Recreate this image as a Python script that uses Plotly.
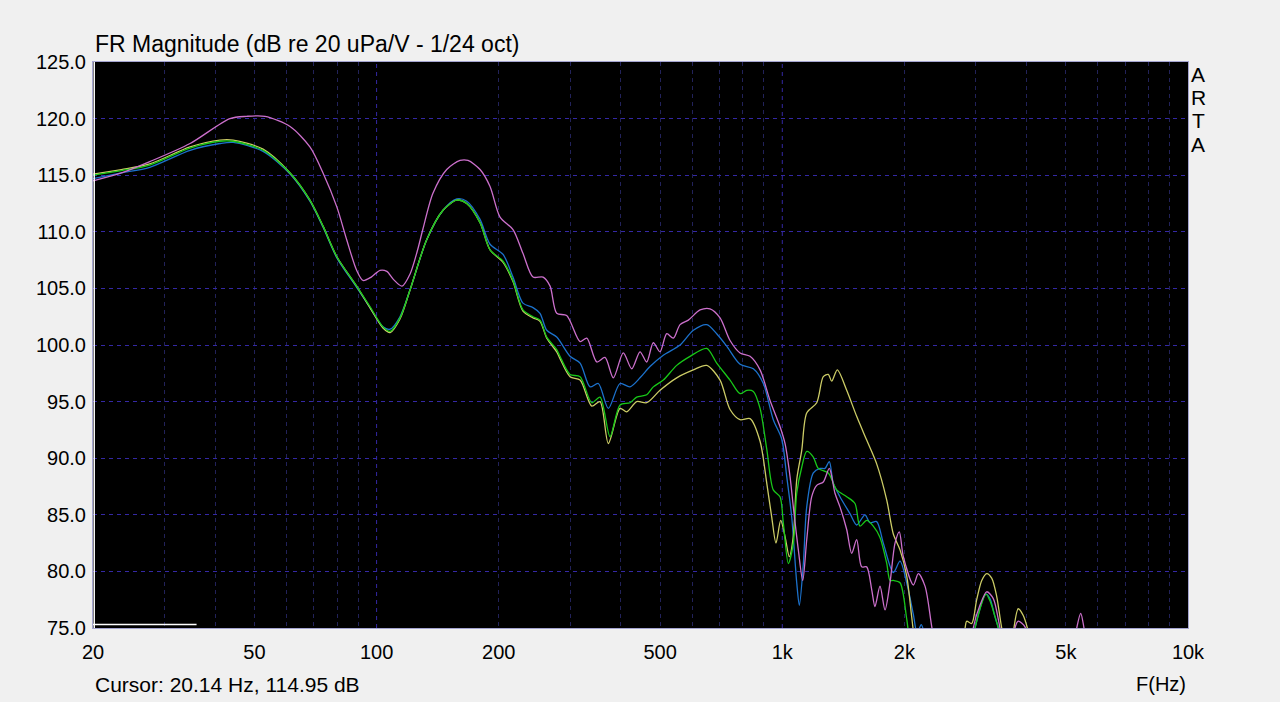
import math
import plotly.graph_objects as go

# ---------------- data ----------------
x_tick_vals = [20, 50, 100, 200, 500, 1000, 2000, 5000, 10000]
x_tick_text = ["20", "50", "100", "200", "500", "1k", "2k", "5k", "10k"]
x_minor_grid = [30, 40, 50, 60, 70, 80, 90, 200, 300, 400, 500, 600, 700, 800, 900,
                2000, 3000, 4000, 5000, 6000, 7000, 8000, 9000]
x_decade_grid = [100, 1000]
y_min, y_max, y_step = 75, 125, 5

cursor_freq = 20.14
cursor_db = 114.95
marker_seg_freq = [20, 36]
marker_seg_db = 75.3

freq_magenta = [
    20, 23.5, 27.6, 34.7, 43.5, 47.8, 53.1, 61.2, 68.5, 73.8,
    79.8, 84.4, 89.3, 92.6, 97, 102, 106, 110, 115.5, 121,
    126, 130, 137.7, 148.9, 160.6, 168, 179.9, 190.4, 201.5, 216.9,
    229.5, 243, 257.3, 267.7, 278, 294.2, 317.4, 329.7, 348.9, 365.6,
    383.3, 405.6, 425.5, 446, 463.2, 480.9, 499.6, 519, 538.8, 559.8,
    586.8, 627, 663.6, 702.4, 743.4, 786.9, 832.8, 881.5, 932.8, 987,
    1015.5, 1044.8, 1064.6, 1095.3, 1123, 1148.8, 1181.8, 1215.8, 1262, 1305.8,
    1348.6, 1387.4, 1441.2, 1482.6, 1525.2, 1569, 1614.4, 1661, 1692.2, 1741.2,
    1791.6, 1843, 1896, 1942.8, 1987.6, 2104, 2164, 2248, 2336, 2420,
    2900, 2956, 3070, 3190, 3312, 3440, 3560, 3700, 3746, 3816,
    3964, 4080, 5200, 5318, 5440, 5542, 5680, 10000]
db_magenta = [
    114.5, 115.2, 116.2, 117.8, 120.0, 120.2, 120.2, 119.3, 117.5, 115.2,
    112.2, 109.3, 106.6, 105.7, 106.0, 106.6, 106.5, 105.8, 105.2, 106.3,
    108.3, 110.2, 113.4, 115.5, 116.3, 116.3, 115.5, 114.0, 111.3, 110.2,
    108.1, 106.0, 106.0, 105.2, 102.8, 102.6, 100.3, 100.6, 98.5, 98.9,
    97.1, 99.3, 97.9, 99.4, 98.5, 100.2, 99.4, 101.0, 100.6, 101.8,
    102.2, 103.1, 103.2, 102.4, 100.4, 99.3, 99.0, 97.8, 95.1, 92.8,
    91.3, 88.4, 85.7, 81.9, 79.2, 82.8, 86.6, 87.6, 87.9, 89.1,
    86.9, 85.7, 83.7, 81.6, 82.8, 80.4, 80.4, 78.4, 76.9, 78.7,
    76.6, 79.0, 82.5, 83.5, 81.3, 78.8, 79.8, 78.7, 75.1, 72.0,
    72.0, 75.0, 77.0, 78.2, 77.6, 75.0, 72.5, 73.0, 75.0, 75.6,
    75.1, 72.5, 72.5, 75.0, 76.3, 75.0, 72.5, 70.0]

freq_blue = [
    20, 23.5, 27.6, 34.7, 41.1, 44.3, 52.5, 61.2, 68.5, 73.8,
    79.8, 89.3, 96.3, 103.7, 108, 114.2, 121, 132.9, 145.8, 157.6,
    166.8, 179.9, 190.4, 205, 216.9, 229.5, 243, 252.8, 262.7, 278,
    299.8, 317.4, 335.8, 352, 372.6, 398.2, 421.4, 446, 472, 509,
    559.8, 603.6, 651.3, 689.2, 729.5, 786.9, 848.6, 898, 950.2, 996.7,
    1025.4, 1055, 1085.4, 1101.6, 1127, 1148.8, 1192.6, 1238.6, 1274.2, 1305.8,
    1335.6, 1387.4, 1468.4, 1525.2, 1599, 1645, 1708.6, 1774.4, 1877.8, 1950.8,
    2026, 2104, 2150, 2200, 2260, 2350, 2900, 2986, 3178, 3250,
    3344, 3408, 3520, 10000]
db_blue = [
    114.7, 115.2, 115.7, 117.2, 117.8, 117.9, 117.1, 115.1, 112.7, 110.4,
    107.7, 105.1, 103.3, 101.6, 101.4, 102.5, 104.9, 109.3, 111.9, 112.9,
    112.7, 111.1, 108.9, 108.0, 106.0, 103.7, 103.3, 102.8, 101.3, 100.7,
    99.0, 98.4, 96.3, 96.6, 94.4, 96.6, 96.3, 97.1, 98.1, 99.1,
    100.0, 101.3, 101.8, 101.0, 99.9, 98.3, 97.9, 96.6, 93.4, 91.7,
    88.4, 84.8, 79.0, 77.0, 80.7, 85.7, 88.7, 89.1, 89.1, 89.7,
    87.8, 86.6, 85.1, 84.1, 85.0, 84.3, 84.4, 82.5, 79.9, 80.9,
    79.0, 76.2, 74.5, 75.3, 74.0, 72.0, 72.0, 75.0, 78.0, 77.6,
    76.0, 75.0, 72.5, 70.0]

freq_green = [
    20, 23.5, 27.6, 34.7, 41.1, 44.3, 52.5, 61.2, 68.5, 73.8,
    79.8, 89.3, 96.3, 103.7, 108, 114.2, 121, 132.9, 145.8, 157.6,
    166.8, 179.9, 190.4, 205, 216.9, 229.5, 243, 252.8, 262.7, 278,
    283.2, 299.8, 317.4, 339.1, 355.4, 376.2, 398.2, 421.4, 437.7, 463.2,
    480.9, 509, 549.3, 592.4, 651.3, 689.2, 743.4, 786.9, 817.4, 848.6,
    881.5, 915.6, 950.2, 987, 1005.8, 1034.8, 1064.6, 1085.4, 1116.7, 1148.8,
    1192.6, 1226.8, 1298.4, 1361.8, 1441.2, 1510.6, 1554.2, 1614.4, 1675.8, 1741.2,
    1809, 1843, 1877.8, 1950.8, 2026, 2060, 2150, 2900, 2986, 3178,
    3250, 3344, 3408, 3500, 10000]
db_green = [
    115.0, 115.4, 115.9, 117.4, 118.0, 118.0, 117.2, 115.2, 112.8, 110.5,
    107.8, 105.2, 103.4, 101.6, 101.2, 102.4, 104.9, 109.3, 111.9, 112.8,
    112.5, 110.8, 108.4, 107.4, 105.7, 103.1, 102.5, 102.2, 100.7, 99.6,
    99.0, 97.4, 97.2, 94.9, 95.4, 91.9, 94.7, 94.9, 95.4, 95.6,
    96.3, 96.9, 98.2, 99.0, 99.7, 98.4, 96.9, 95.7, 96.0, 95.9,
    94.4, 90.8, 87.2, 86.6, 84.3, 80.7, 82.5, 86.9, 89.2, 90.6,
    90.1, 89.1, 88.7, 87.2, 86.6, 86.0, 84.0, 84.5, 84.0, 83.0,
    80.7, 79.2, 79.2, 79.0, 75.8, 74.0, 72.0, 72.0, 75.0, 78.0,
    77.4, 76.0, 75.0, 72.5, 70.0]

freq_yellow = [
    20, 23.5, 27.6, 34.7, 41.1, 44.3, 52.5, 61.2, 68.5, 73.8,
    79.8, 89.3, 96.3, 103.7, 108, 114.2, 121, 132.9, 145.8, 157.6,
    166.8, 179.9, 190.4, 205, 216.9, 229.5, 243, 252.8, 262.7, 278,
    283.2, 299.8, 317.4, 339.1, 355.4, 372.6, 398.2, 413.6, 437.7, 463.2,
    499.6, 549.3, 603.6, 651.3, 702.4, 743.4, 786.9, 832.8, 881.5, 915.6,
    941.8, 964.9, 991.1, 1015.5, 1040.6, 1064.6, 1085.4, 1116.7, 1148.8, 1215.8,
    1262, 1298.4, 1323.8, 1366.4, 1441.2, 1525.2, 1614.4, 1708.6, 1809, 1877.8,
    1950.8, 2026, 2084, 2110, 2200, 2750, 2822, 2848, 2930, 3014,
    3102, 3190, 3282, 3376, 3474, 3600, 3680, 3724, 3816, 3926,
    4018, 4150, 10000]
db_yellow = [
    115.1, 115.5, 116.0, 117.5, 118.1, 118.1, 117.3, 115.2, 112.8, 110.5,
    107.8, 105.2, 103.3, 101.5, 101.1, 102.3, 104.9, 109.3, 111.9, 112.8,
    112.5, 110.8, 108.4, 107.3, 105.6, 103.0, 102.4, 102.1, 100.6, 99.4,
    98.8, 97.2, 96.9, 94.6, 95.0, 91.3, 94.4, 94.1, 95.0, 94.9,
    96.0, 97.1, 97.8, 98.2, 96.9, 94.3, 93.4, 93.5, 91.5, 87.8,
    84.8, 82.5, 84.5, 83.1, 81.3, 83.1, 88.1, 90.7, 94.0, 94.9,
    97.2, 97.4, 96.8, 97.8, 96.0, 93.7, 91.6, 89.5, 86.3, 83.3,
    81.9, 79.6, 76.0, 74.5, 72.0, 72.0, 75.0, 75.6, 75.4, 77.5,
    79.2, 79.8, 79.4, 77.8, 75.0, 72.5, 72.5, 75.0, 76.7, 76.1,
    75.0, 72.5, 70.0]

series = [
    ("blue", freq_blue, db_blue, "#1c72cc"),
    ("yellow", freq_yellow, db_yellow, "#cccc66"),
    ("green", freq_green, db_green, "#18c818"),
    ("magenta", freq_magenta, db_magenta, "#cc70cc"),
]

# ---------------- figure ----------------
FONT = "Liberation Sans, Arial, sans-serif"
grid_bright = "#3428a4"
grid_dim = "#22225a"
frame_col = "#a4a4d0"

fig = go.Figure()
for name, f, d, col in series:
    assert len(f) == len(d), name
    fig.add_trace(go.Scatter(x=f, y=d, mode="lines", name=name,
                             line=dict(color=col, width=1.3, shape="spline", smoothing=0.8),
                             hoverinfo="skip"))

for fx in x_decade_grid:
    fig.add_shape(type="line", xref="x", yref="paper", x0=fx, x1=fx, y0=0, y1=1,
                  line=dict(color=grid_bright, width=1, dash="4px,4px"), layer="below")

# cursor lines
fig.add_shape(type="line", xref="x", yref="paper", x0=cursor_freq, x1=cursor_freq, y0=0, y1=1,
              line=dict(color="white", width=1.5), layer="above")
fig.add_shape(type="line", xref="x", yref="y", x0=marker_seg_freq[0], x1=marker_seg_freq[1],
              y0=marker_seg_db, y1=marker_seg_db, line=dict(color="white", width=1.5), layer="above")

fig.update_layout(
    width=1280, height=702,
    margin=dict(l=93, r=92, t=62, b=74, pad=0),
    paper_bgcolor="#f0f0f0", plot_bgcolor="black",
    showlegend=False,
    font=dict(family=FONT, size=20, color="black"),
    xaxis=dict(type="log", range=[math.log10(20), math.log10(10000)],
               tickmode="array", tickvals=x_tick_vals, ticktext=x_tick_text,
               showgrid=False, zeroline=False, ticks="",
               tickfont=dict(family=FONT, size=20, color="black"),
               ticklabelstandoff=6,
               showline=True, linecolor=frame_col, linewidth=1, mirror=True,
               minor=dict(tickmode="array", tickvals=x_minor_grid, showgrid=True,
                          gridcolor=grid_dim, griddash="4px,4px", gridwidth=1, ticks="")),
    yaxis=dict(range=[y_min, y_max], tickmode="linear", tick0=y_min, dtick=y_step,
               tickformat=".1f", showgrid=True, gridcolor=grid_bright,
               griddash="4px,4px", gridwidth=1, zeroline=False, ticks="",
               tickfont=dict(family=FONT, size=20, color="black"),
               ticklabelstandoff=2,
               showline=True, linecolor=frame_col, linewidth=1, mirror=True),
)

annots = [
    dict(text="FR Magnitude (dB re 20 uPa/V - 1/24 oct)", x=0, y=1, xref="paper", yref="paper",
         xanchor="left", yanchor="middle", yshift=18, showarrow=False,
         font=dict(family=FONT, size=23, color="black")),
    dict(text=f"Cursor: {cursor_freq:.2f} Hz, {cursor_db:.2f} dB", x=0, y=0, xref="paper", yref="paper",
         xanchor="left", yanchor="middle", yshift=-56, showarrow=False,
         font=dict(family=FONT, size=21, color="black")),
    dict(text="F(Hz)", x=1, y=0, xref="paper", yref="paper",
         xanchor="right", yanchor="middle", yshift=-56, showarrow=False,
         font=dict(family=FONT, size=20, color="black")),
]
for i, ch in enumerate("ARTA"):
    annots.append(dict(text=ch, x=1, y=1, xref="paper", yref="paper",
                       xanchor="center", yanchor="middle", xshift=10, yshift=-(12.5 + 23.2 * i),
                       showarrow=False, font=dict(family=FONT, size=21, color="black")))
fig.update_layout(annotations=annots)

fig.write_html("out.html", config={"displayModeBar": False},
               post_script="document.body.style.margin='0';document.body.style.overflow='hidden';")
